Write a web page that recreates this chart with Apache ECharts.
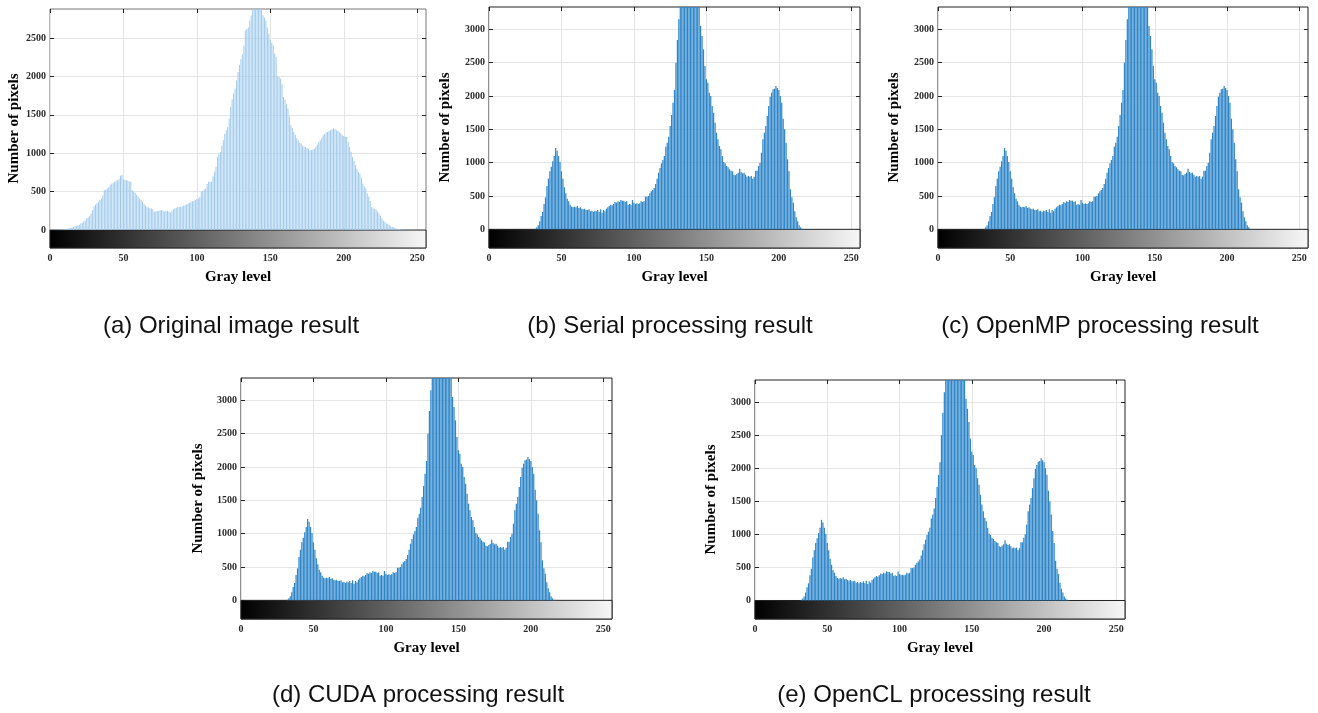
<!DOCTYPE html>
<html>
<head>
<meta charset="utf-8">
<title>Gray level histograms</title>
<script src="https://cdn.jsdelivr.net/npm/echarts@6/dist/echarts.min.js"></script>
<style>
  html, body { margin: 0; padding: 0; background: #fff; }
  #main { width: 1318px; height: 713px; }
</style>
</head>
<body>
<div id="main"></div>
<script>
var chart = echarts.init(document.getElementById('main'), null, { renderer: 'canvas' });

// tick labels
var grayTicks = [0, 50, 100, 150, 200, 250];
var originalTicks = [0, 500, 1000, 1500, 2000, 2500];
var resultTicks = [0, 500, 1000, 1500, 2000, 2500, 3000];

// gray levels 0..255
var grayLevels = [];
for (var g = 0; g < 256; g++) grayLevels.push(g);

// (a) histogram of the original image
var originalCounts = [
  0, 1, 1, 2, 3, 4, 5, 7, 8, 10,
  12, 15, 18, 22, 27, 32, 40, 48, 52, 62,
  70, 85, 95, 110, 125, 152, 165, 185, 217, 260,
  310, 330, 350, 368, 390, 412, 450, 520, 525, 542,
  560, 590, 607, 615, 628, 640, 650, 665, 706, 720,
  660, 655, 650, 645, 630, 628, 520, 500, 485, 460,
  433, 410, 390, 370, 338, 320, 300, 295, 285, 282,
  270, 238, 245, 250, 247, 255, 260, 250, 238, 245,
  251, 240, 230, 250, 270, 282, 290, 303, 300, 303,
  310, 320, 325, 335, 347, 355, 368, 375, 385, 390,
  400, 412, 430, 498, 510, 529, 540, 600, 628, 630,
  630, 700, 758, 820, 953, 990, 1018, 1100, 1170, 1250,
  1300, 1343, 1450, 1603, 1700, 1780, 1841, 1950, 2058, 2150,
  2230, 2290, 2400, 2600, 2620, 2640, 2730, 2795, 2870, 2920,
  2950, 2930, 2960, 2900, 2890, 2800, 2770, 2730, 2640, 2557,
  2480, 2440, 2405, 2300, 2253, 2000, 1993, 1971, 1900, 1733,
  1700, 1640, 1582, 1480, 1365, 1330, 1278, 1240, 1200, 1170,
  1140, 1126, 1100, 1085, 1083, 1070, 1060, 1040, 1040, 1050,
  1060, 1085, 1110, 1148, 1170, 1200, 1235, 1250, 1270, 1278,
  1290, 1300, 1310, 1322, 1315, 1300, 1290, 1278, 1260, 1235,
  1225, 1215, 1213, 1150, 1083, 1020, 953, 900, 845, 800,
  760, 737, 680, 607, 570, 542, 480, 433, 380, 300,
  282, 275, 269, 240, 217, 185, 152, 120, 108, 90,
  78, 65, 50, 43, 35, 27, 17, 14, 12, 9,
  9, 7, 5, 4, 3, 2, 2, 1, 1, 1,
  0, 0, 0, 0, 0, 0
];

// (b)-(e) histogram after equalisation (the four implementations agree)
var equalizedCounts = [
  0, 0, 0, 0, 0, 0, 0, 0, 0, 0,
  0, 0, 0, 0, 0, 0, 0, 0, 0, 0,
  0, 0, 0, 0, 0, 0, 0, 0, 0, 0,
  0, 0, 10, 30, 60, 120, 200, 260, 380, 480,
  650, 760, 870, 940, 1020, 1100, 1220, 1180, 1100, 1010,
  870, 760, 630, 540, 460, 420, 370, 340, 330, 340,
  330, 350, 320, 330, 310, 300, 310, 290, 290, 300,
  270, 280, 260, 280, 270, 290, 260, 300, 250, 290,
  270, 310, 330, 350, 370, 360, 380, 410, 400, 420,
  410, 440, 430, 430, 410, 420, 370, 380, 370, 440,
  400, 380, 390, 380, 390, 420, 410, 420, 490, 490,
  500, 540, 570, 590, 620, 680, 760, 850, 920, 990,
  1040, 1100, 1240, 1300, 1390, 1550, 1715, 1900, 2090, 2500,
  2840, 3150, 3400, 3550, 3600, 3650, 3700, 3650, 3700, 3600,
  3650, 3600, 3550, 3500, 3450, 3400, 3050, 2900, 2700, 2450,
  2250, 2200, 2050, 2000, 1850, 1750, 1600, 1450, 1350, 1250,
  1200, 1100, 1010, 990, 950, 930, 900, 880, 870, 820,
  810, 830, 850, 910, 860, 840, 850, 820, 790, 800,
  790, 800, 760, 790, 880, 880, 950, 1000, 1150, 1350,
  1450, 1550, 1700, 1850, 1990, 2050, 2100, 2110, 2150, 2120,
  2090, 2000, 1900, 1660, 1500, 1300, 1050, 870, 600, 480,
  400, 270, 180, 120, 60, 30, 10, 5, 0, 0,
  0, 0, 0, 0, 0, 0, 0, 0, 0, 0,
  0, 0, 0, 0, 0, 0, 0, 0, 0, 0,
  0, 0, 0, 0, 0, 0, 0, 0, 0, 0,
  0, 0, 0, 0, 0, 0
];
var serialCounts = equalizedCounts;
var openmpCounts = equalizedCounts;
var cudaCounts = equalizedCounts;
var openclCounts = equalizedCounts;

var captions = [
  '(a) Original image result',
  '(b) Serial processing result',
  '(c) OpenMP processing result',
  '(d) CUDA processing result',
  '(e) OpenCL processing result'
];

var serif = '"Liberation Serif", "Times New Roman", Times, serif';
var sans = '"Liberation Sans", Arial, Helvetica, sans-serif';

// layout of the five panels
var panels = [
  { counts: originalCounts, ticks: originalTicks, left: 50, top: 9, width: 376, height: 239,
    yMin: -234, yMax: 2880, nameGap: 28, color: '#9fcaec', barWidth: '62%', frame: '#777',
    capX: 231, capY: 314 },
  { counts: serialCounts, ticks: resultTicks, left: 489, top: 7, width: 371, height: 241,
    yMin: -280, yMax: 3335, nameGap: 36, color: '#2e86c9', barWidth: '85%', frame: '#222',
    capX: 670, capY: 314 },
  { counts: openmpCounts, ticks: resultTicks, left: 938, top: 7, width: 370, height: 241,
    yMin: -280, yMax: 3335, nameGap: 36, color: '#2e86c9', barWidth: '85%', frame: '#222',
    capX: 1100, capY: 314 },
  { counts: cudaCounts, ticks: resultTicks, left: 241, top: 378, width: 371, height: 241,
    yMin: -280, yMax: 3335, nameGap: 35, color: '#2e86c9', barWidth: '85%', frame: '#222',
    capX: 418, capY: 683 },
  { counts: openclCounts, ticks: resultTicks, left: 755, top: 380, width: 370, height: 239,
    yMin: -280, yMax: 3335, nameGap: 36, color: '#2e86c9', barWidth: '85%', frame: '#222',
    capX: 934, capY: 683 }
];

var tickStyle = { color: '#222', width: 1 };
var labelStyle = { fontFamily: serif, fontWeight: 'bold', fontSize: 10, color: '#2b2b2b' };
var nameStyle = { fontFamily: serif, fontWeight: 'bold', fontSize: 15, color: '#000' };
var gridLine = { show: true, lineStyle: { color: '#e4e4e4', width: 1 } };
function plain(v) { return String(v); }

var grid = [], xAxis = [], yAxis = [], series = [], title = [];

panels.forEach(function (p, k) {
  grid.push({
    left: p.left, top: p.top, width: p.width, height: p.height,
    show: true, borderColor: p.frame, borderWidth: 1
  });

  // bottom and top x axes
  xAxis.push({
    gridIndex: k, type: 'value', min: 0, max: 256, position: 'bottom',
    name: 'Gray level', nameLocation: 'middle', nameGap: 22, nameTextStyle: nameStyle,
    axisLine: { show: false, onZero: false },
    axisTick: { inside: true, length: 4, customValues: grayTicks, lineStyle: tickStyle },
    axisLabel: Object.assign({ customValues: grayTicks, margin: 5, formatter: plain }, labelStyle),
    splitLine: gridLine
  });
  xAxis.push({
    gridIndex: k, type: 'value', min: 0, max: 256, position: 'top',
    axisLine: { show: false, onZero: false },
    axisTick: { inside: true, length: 4, customValues: grayTicks, lineStyle: tickStyle },
    axisLabel: { show: false },
    splitLine: { show: false }
  });

  // left and right y axes
  yAxis.push({
    gridIndex: k, type: 'value', min: p.yMin, max: p.yMax, position: 'left',
    name: 'Number of pixels', nameLocation: 'middle', nameGap: p.nameGap, nameTextStyle: nameStyle,
    axisLine: { show: false, onZero: false },
    axisTick: { inside: true, length: 4, customValues: p.ticks, lineStyle: tickStyle },
    axisLabel: Object.assign({ customValues: p.ticks, margin: 4, formatter: plain }, labelStyle),
    splitLine: gridLine
  });
  yAxis.push({
    gridIndex: k, type: 'value', min: p.yMin, max: p.yMax, position: 'right',
    axisLine: { show: false, onZero: false },
    axisTick: { inside: true, length: 4, customValues: p.ticks, lineStyle: tickStyle },
    axisLabel: { show: false },
    splitLine: { show: false }
  });

  series.push({
    type: 'bar',
    xAxisIndex: 2 * k,
    yAxisIndex: 2 * k,
    data: p.counts.map(function (v, i) { return [grayLevels[i], v]; }),
    barWidth: p.barWidth,
    itemStyle: { color: p.color },
    silent: true,
    markArea: {
      silent: true,
      label: { show: false },
      itemStyle: {
        color: new echarts.graphic.LinearGradient(0, 0, 1, 0, [
          { offset: 0, color: '#000000' },
          { offset: 1, color: '#f7f7f7' }
        ]),
        borderColor: '#222',
        borderWidth: 1
      },
      data: [[{ xAxis: 0, yAxis: p.yMin }, { xAxis: 256, yAxis: 0 }]]
    }
  });

  title.push({
    text: captions[k],
    left: p.capX,
    top: p.capY,
    textAlign: 'center',
    padding: 0,
    textStyle: { fontFamily: sans, fontSize: 24, fontWeight: 'normal', color: '#111' }
  });
});

var option = {
  animation: false,
  backgroundColor: '#fff',
  title: title,
  grid: grid,
  xAxis: xAxis,
  yAxis: yAxis,
  series: series
};

chart.setOption(option);
window.addEventListener('resize', chart.resize);
</script>
</body>
</html>
